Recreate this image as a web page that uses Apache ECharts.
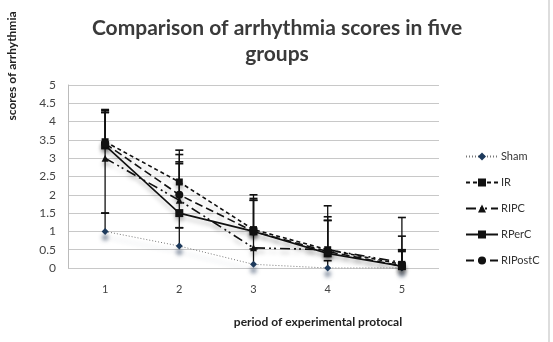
<!DOCTYPE html>
<html lang="en">
  <head>
    <meta charset="UTF-8" />
    <title>arrhythmia scores</title>
    <style>
      body {
        margin: 0;
        background: #fff;
      }
      #chart {
        width: 553px;
        height: 342px;
      }
    </style>
    <script src="https://cdn.jsdelivr.net/npm/echarts@6/dist/echarts.min.js"></script>
  </head>
  <body>
    <div id="chart"></div>

    <script>
      const periods = ["1", "2", "3", "4", "5"];
      const groups = ["Sham", "IR", "RIPC", "RPerC", "RIPostC"];

      // mean scores per period
      const sham = [1.0, 0.6, 0.1, 0.0, 0.0];
      const ir = [3.45, 2.35, 1.05, 0.5, 0.1];
      const ripc = [3.0, 1.85, 0.55, 0.5, 0.15];
      const rperc = [3.35, 1.5, 1.0, 0.4, 0.05];
      const ripostc = [3.4, 2.0, 1.0, 0.45, 0.05];

      // error bars: upper and lower lengths
      const shamUp = [0.5, 0.5, 0.42, 0.2, 0.49];
      const irUp = [0.88, 0.87, 0.95, 1.2, 1.28];
      const ripcUp = [1.3, 1.0, 1.3, 0.8, 0.72];
      const rpercUp = [0.9, 1.4, 0.85, 0.9, 0.45];
      const ripostcUp = [0.85, 1.1, 0.9, 0.95, 0.4];

      const shamDown = [0, 0, 0, 0, 0];
      const irDown = [0, 0, 0, 0, 0];
      const ripcDown = [1.5, 0, 0, 0, 0];
      const rpercDown = [0, 0.4, 0, 0, 0];
      const ripostcDown = [0, 0, 0, 0, 0];

      const yTicks = ["0", "0.5", "1", "1.5", "2", "2.5", "3", "3.5", "4", "4.5", "5"];

      const means = [sham, ir, ripc, rperc, ripostc];
      const ups = [shamUp, irUp, ripcUp, rpercUp, ripostcUp];
      const downs = [shamDown, irDown, ripcDown, rpercDown, ripostcDown];

      const errData = [];
      means.forEach((m, s) => {
        m.forEach((v, i) => {
          errData.push([i, v - downs[s][i], v + ups[s][i], downs[s][i] > 0 ? 1 : 0]);
        });
      });

      const shadow = {
        shadowColor: "rgba(0,0,0,0.25)",
        shadowBlur: 4,
        shadowOffsetY: 4,
      };

      const styles = [
        { symbol: "diamond", size: 7, type: [1, 2], width: 1, color: "#777", mark: "#1d3a5c" },
        { symbol: "rect", size: 7, type: [4, 3], width: 1.6, color: "#111", mark: "#111" },
        { symbol: "triangle", size: 7, type: [10, 4, 2, 3, 2, 4], width: 1.6, color: "#111", mark: "#111" },
        { symbol: "rect", size: 8, type: "solid", width: 1.6, color: "#111", mark: "#111" },
        { symbol: "circle", size: 8, type: [8, 4], width: 1.6, color: "#111", mark: "#111" },
      ];

      const series = groups.map((name, s) => ({
        name: name,
        type: "line",
        data: means[s],
        symbol: styles[s].symbol,
        symbolSize: styles[s].size,
        z: 3,
        lineStyle: Object.assign(
          { color: styles[s].color, width: styles[s].width, type: styles[s].type },
          s === 0
            ? { shadowColor: "rgba(40,60,90,0.45)", shadowBlur: 4, shadowOffsetY: 6 }
            : shadow
        ),
        itemStyle: Object.assign(
          { color: styles[s].mark, borderWidth: 0 },
          s === 0
            ? { shadowColor: "rgba(40,60,90,0.7)", shadowBlur: 4, shadowOffsetY: 6 }
            : shadow
        ),
      }));

      series.push({
        name: "error",
        type: "custom",
        z: 2,
        data: errData,
        renderItem(params, api) {
          const lo = api.coord([api.value(0), api.value(1)]);
          const hi = api.coord([api.value(0), api.value(2)]);
          const c = 4;
          const kids = [
            { type: "line", shape: { x1: lo[0], y1: lo[1], x2: hi[0], y2: hi[1] }, style: { stroke: "#111", lineWidth: 1.3 } },
            { type: "line", shape: { x1: hi[0] - c, y1: hi[1], x2: hi[0] + c, y2: hi[1] }, style: { stroke: "#111", lineWidth: 1.6 } },
          ];
          if (api.value(3)) {
            kids.push({ type: "line", shape: { x1: lo[0] - c, y1: lo[1], x2: lo[0] + c, y2: lo[1] }, style: { stroke: "#111", lineWidth: 1.6 } });
          }
          return { type: "group", children: kids };
        },
      });

      const chart = echarts.init(document.getElementById("chart"));
      chart.setOption({
        animation: false,
        textStyle: { fontFamily: "Lato" },
        title: {
          text: "Comparison of arrhythmia scores in five\ngroups",
          left: 272,
          textAlign: "center",
          top: 10,
          textStyle: { fontSize: 21, fontWeight: "bold", color: "#3a3a3a", lineHeight: 26, fontFamily: "Lato" },
        },
        legend: {
          data: groups,
          orient: "vertical",
          left: 460,
          top: 146,
          itemWidth: 32,
          itemHeight: 10,
          itemGap: 15,
          textStyle: { fontSize: 11, color: "#333", padding: [0, 0, 0, -2] },
        },
        grid: { left: 68, right: 114, top: 85, bottom: 74 },
        xAxis: {
          type: "category",
          data: periods,
          axisLine: { show: false },
          axisTick: { show: false },
          axisLabel: { color: "#444", fontSize: 11, margin: 16 },
        },
        yAxis: {
          type: "value",
          min: 0,
          max: 5,
          interval: 0.5,
          axisLine: { show: true, lineStyle: { color: "#bbb" } },
          axisLabel: {
            color: "#444",
            fontSize: 12,
            margin: 12,
            formatter: (v) => yTicks[Math.round(v / 0.5)],
          },
          splitLine: { lineStyle: { color: "#c8c8c8" } },
        },
        graphic: [
          {
            type: "text",
            x: 12,
            y: 66,
            rotation: Math.PI / 2,
            style: {
              text: "scores of arrhythmia",
              font: "bold 12px Lato",
              fill: "#222",
              textAlign: "center",
              textVerticalAlign: "middle",
            },
          },
          {
            type: "text",
            x: 318,
            y: 322,
            style: {
              text: "period of experimental protocal",
              font: "bold 12px Lato",
              fill: "#222",
              textAlign: "center",
              textVerticalAlign: "middle",
            },
          },
          {
            type: "line",
            shape: { x1: 549, y1: 0, x2: 549, y2: 342 },
            style: { stroke: "#bbb", lineWidth: 1 },
          },
        ],
        series: series,
      });
    </script>
  </body>
</html>
